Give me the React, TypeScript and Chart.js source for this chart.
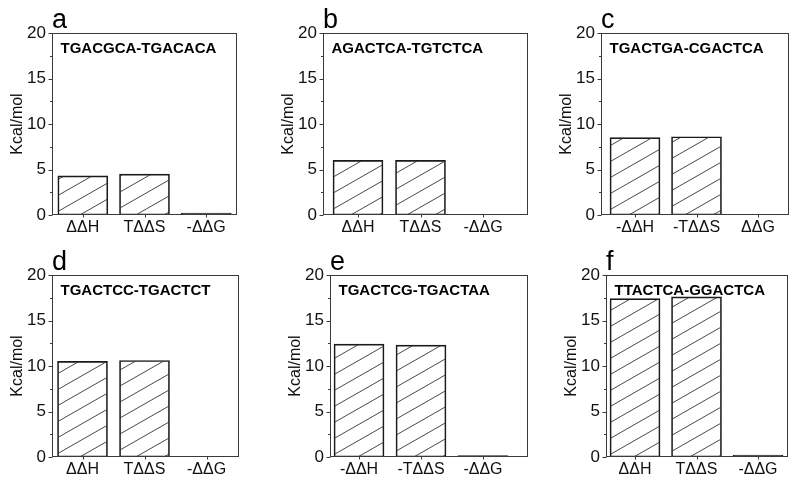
import React, { useEffect, useRef } from 'react';
import { Chart, registerables } from 'chart.js';

Chart.register(...registerables);

// ---------------- data ----------------
const panelLetters = ['a', 'b', 'c', 'd', 'e', 'f'];
const panelTitles = [
  'TGACGCA-TGACACA',
  'AGACTCA-TGTCTCA',
  'TGACTGA-CGACTCA',
  'TGACTCC-TGACTCT',
  'TGACTCG-TGACTAA',
  'TTACTCA-GGACTCA',
];
const categoriesA = ['ΔΔH', 'TΔΔS', '-ΔΔG'];
const categoriesB = ['ΔΔH', 'TΔΔS', '-ΔΔG'];
const categoriesC = ['-ΔΔH', '-TΔΔS', 'ΔΔG'];
const categoriesD = ['ΔΔH', 'TΔΔS', '-ΔΔG'];
const categoriesE = ['-ΔΔH', '-TΔΔS', '-ΔΔG'];
const categoriesF = ['ΔΔH', 'TΔΔS', '-ΔΔG'];

const valuesA = [4.3, 4.5, 0.2];
const valuesB = [6.0, 6.0, 0];
const valuesC = [8.5, 8.6, 0];
const valuesD = [10.5, 10.6, 0];
const valuesE = [12.4, 12.3, 0.15];
const valuesF = [17.4, 17.6, 0.2];

const yTickValues = [0, 5, 10, 15, 20];
const yMinorTickValues = [2.5, 7.5, 12.5, 17.5];
const yAxisTitle = 'Kcal/mol';

const panelCategories = [categoriesA, categoriesB, categoriesC, categoriesD, categoriesE, categoriesF];
const panelValues = [valuesA, valuesB, valuesC, valuesD, valuesE, valuesF];

// ---------------- layout ----------------
const boxes = [
  { left: 52, top: 33, right: 237, bottom: 215, xMin: 0.5, xMax: 3.5 },
  { left: 323, top: 33, right: 528, bottom: 215, xMin: 0.44, xMax: 3.72 },
  { left: 601, top: 33, right: 789, bottom: 215, xMin: 0.447, xMax: 3.504 },
  { left: 52, top: 275, right: 239, bottom: 457, xMin: 0.508, xMax: 3.524 },
  { left: 330, top: 275, right: 528, bottom: 457, xMin: 0.532, xMax: 3.726 },
  { left: 606, top: 275, right: 788, bottom: 457, xMin: 0.528, xMax: 3.488 },
];
const Y_AXIS_W = 44;
const X_AXIS_H = 27;
const PAD_TOP = 33;
const PAD_RIGHT = 6;
const PAD_BOTTOM = 2;
const FONT = '"Liberation Sans", Arial, Helvetica, sans-serif';

Chart.defaults.font.family = FONT;

function makeHatch(): CanvasPattern | string {
  const w = 28;
  const h = 16;
  const c = document.createElement('canvas');
  c.width = w;
  c.height = h;
  const g = c.getContext('2d');
  if (!g) return '#fff';
  g.strokeStyle = '#333';
  g.lineWidth = 0.9;
  g.beginPath();
  for (let k = -1; k <= 1; k++) {
    g.moveTo(-w, 2 * h + k * h);
    g.lineTo(2 * w, -h + k * h);
  }
  g.stroke();
  const p = g.createPattern(c, 'repeat');
  return p || '#fff';
}

const framePlugin = {
  id: 'frame',
  afterDatasetsDraw(chart: any) {
    const { ctx, chartArea: a } = chart;
    const xs = chart.scales.x;
    const ys = chart.scales.y;
    const idx = chart.options.plugins.frame.index;
    ctx.save();
    ctx.strokeStyle = '#3a3a3a';
    ctx.lineWidth = 1;
    const L = Math.round(a.left) + 0.5;
    const T = Math.round(a.top) + 0.5;
    const R = Math.round(a.right) - 0.5;
    const B = Math.round(a.bottom) - 0.5;
    ctx.strokeRect(L, T, R - L, B - T);
    ctx.beginPath();
    yTickValues.forEach((v) => {
      const y = Math.round(ys.getPixelForValue(v)) + 0.5;
      ctx.moveTo(L, y);
      ctx.lineTo(L - 4, y);
    });
    yMinorTickValues.forEach((v) => {
      const y = Math.round(ys.getPixelForValue(v)) + 0.5;
      ctx.moveTo(L, y);
      ctx.lineTo(L - 2.5, y);
    });
    [1, 2, 3].forEach((v) => {
      const x = Math.round(xs.getPixelForValue(v)) + 0.5;
      ctx.moveTo(x, B);
      ctx.lineTo(x, B + 3);
    });
    ctx.stroke();

    ctx.fillStyle = '#000';
    ctx.textBaseline = 'alphabetic';
    ctx.textAlign = 'left';
    ctx.font = `27px ${FONT}`;
    ctx.fillText(panelLetters[idx], a.left, a.top - 5);
    ctx.font = `bold 15px ${FONT}`;
    ctx.fillText(panelTitles[idx], a.left + 8.5, a.top + 19.5);
    ctx.restore();
  },
};

function Panel({ index }: { index: number }) {
  const ref = useRef<HTMLCanvasElement | null>(null);
  const box = boxes[index];
  const cLeft = box.left - Y_AXIS_W;
  const cTop = box.top - PAD_TOP;
  const cW = box.right + PAD_RIGHT - cLeft;
  const cH = box.bottom + X_AXIS_H + PAD_BOTTOM - cTop;

  useEffect(() => {
    if (!ref.current) return;
    const cats = panelCategories[index];
    const vals = panelValues[index];
    const hatch = makeHatch();
    const chart = new Chart(ref.current, {
      type: 'bar',
      data: {
        datasets: [
          {
            data: vals.map((v, i) => ({ x: i + 1, y: v })),
            backgroundColor: hatch as any,
            borderColor: '#1a1a1a',
            borderWidth: 1,
            borderSkipped: false,
            barThickness: 50,
          } as any,
        ],
      },
      options: {
        animation: false,
        responsive: false,
        maintainAspectRatio: false,
        devicePixelRatio: 1,
        layout: { padding: { left: 0, top: PAD_TOP, right: PAD_RIGHT, bottom: PAD_BOTTOM } },
        plugins: {
          legend: { display: false },
          tooltip: { enabled: false },
          frame: { index },
        } as any,
        scales: {
          x: {
            type: 'linear',
            min: box.xMin,
            max: box.xMax,
            offset: false,
            bounds: 'data',
            grid: { display: false, drawTicks: false, offset: false },
            border: { display: false },
            afterBuildTicks: (s: any) => {
              s.ticks = [1, 2, 3].map((v) => ({ value: v }));
            },
            ticks: {
              callback: (v: any) => cats[Math.round(Number(v)) - 1] ?? '',
              font: { size: 16 },
              color: '#111',
              padding: 3,
              maxRotation: 0,
              autoSkip: false,
            },
            afterFit: (s: any) => {
              s.height = X_AXIS_H;
            },
          },
          y: {
            type: 'linear',
            min: 0,
            max: 20,
            grid: { display: false, drawTicks: false },
            border: { display: false },
            afterBuildTicks: (s: any) => {
              s.ticks = yTickValues.map((v) => ({ value: v }));
            },
            ticks: {
              font: { size: 17 },
              color: '#111',
              padding: 6,
            },
            title: {
              display: true,
              text: yAxisTitle,
              font: { size: 16 },
              color: '#111',
              padding: { top: 0, bottom: 0 },
            },
            afterFit: (s: any) => {
              s.width = Y_AXIS_W;
            },
          },
        } as any,
      },
      plugins: [framePlugin as any],
    });
    return () => chart.destroy();
  }, [index]);

  return (
    <canvas
      ref={ref}
      width={cW}
      height={cH}
      style={{ position: 'absolute', left: cLeft, top: cTop, width: cW, height: cH }}
    />
  );
}

export default function App() {
  return (
    <div
      style={{
        position: 'absolute',
        left: 0,
        top: 0,
        width: 800,
        height: 486,
        background: '#fff',
        overflow: 'hidden',
      }}
    >
      {panelLetters.map((_, i) => (
        <Panel key={i} index={i} />
      ))}
    </div>
  );
}
